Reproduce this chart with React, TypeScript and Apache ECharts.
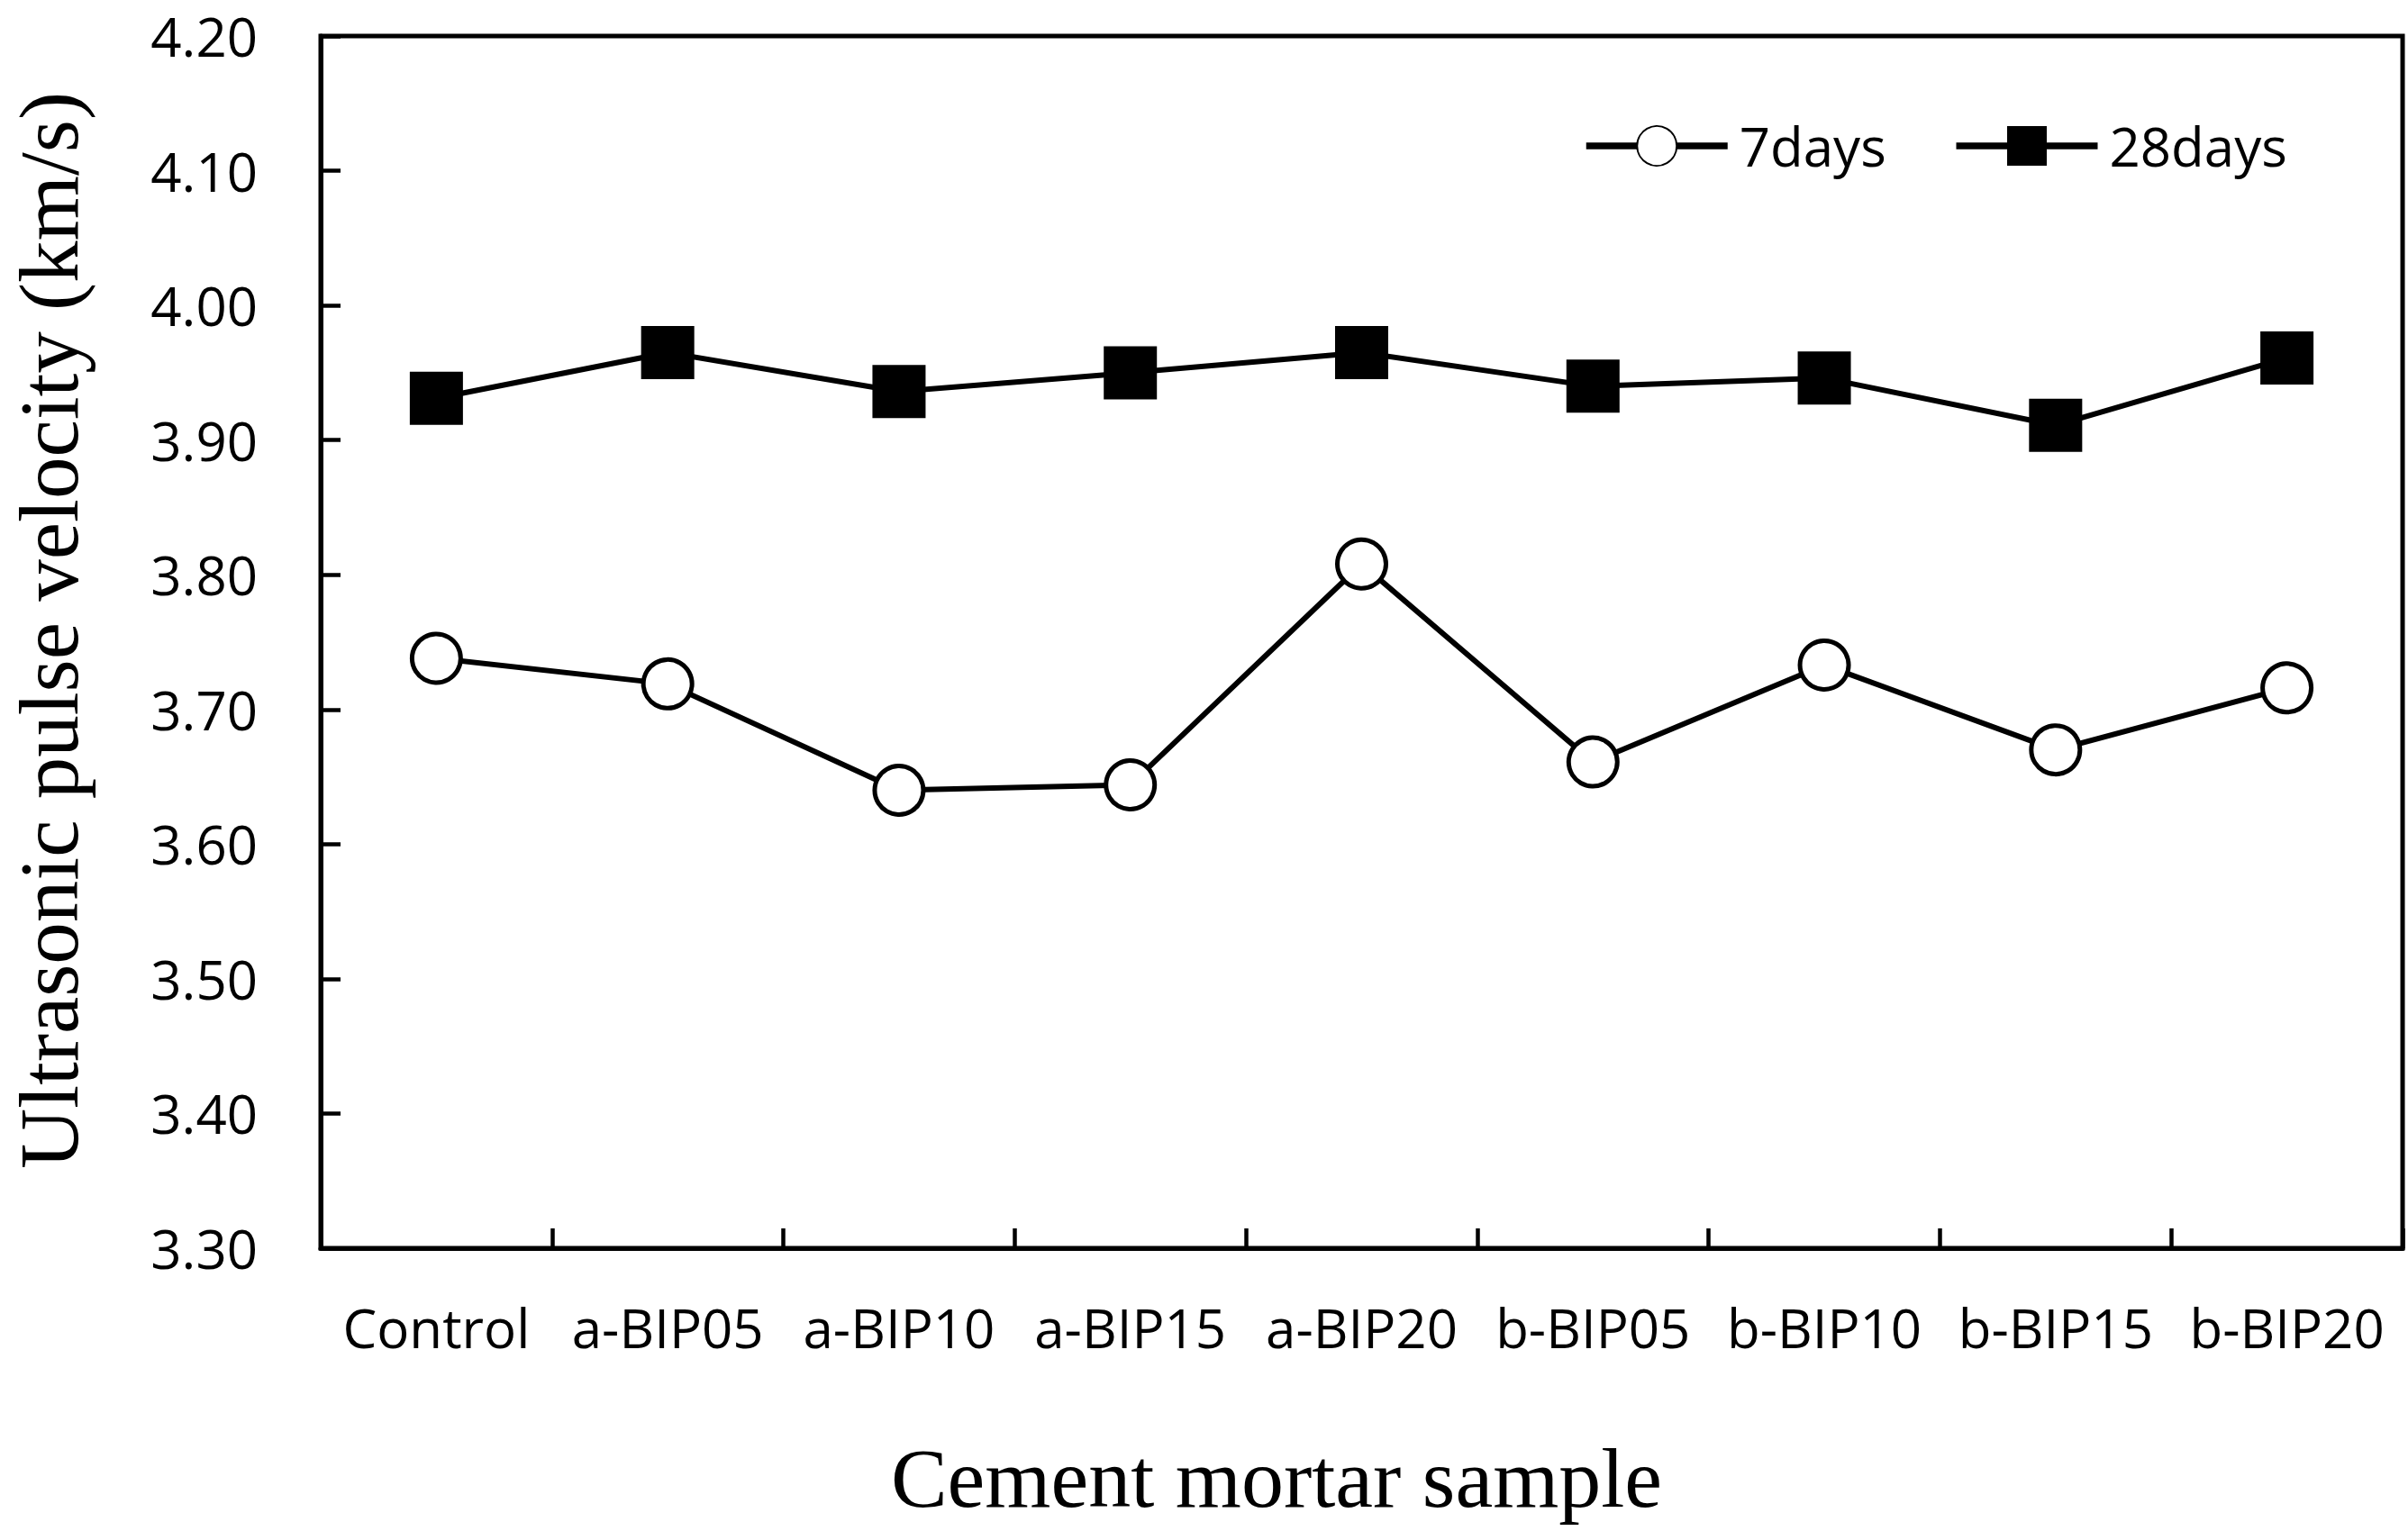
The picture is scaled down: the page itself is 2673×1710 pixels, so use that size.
import React, { useEffect, useRef } from "react";
import * as echarts from "echarts";

const categories = [
  "Control",
  "a-BIP05",
  "a-BIP10",
  "a-BIP15",
  "a-BIP20",
  "b-BIP05",
  "b-BIP10",
  "b-BIP15",
  "b-BIP20",
];
const days7 = [3.738, 3.719, 3.64, 3.644, 3.808, 3.661, 3.733, 3.67, 3.716];
const days28 = [3.931, 3.965, 3.936, 3.95, 3.965, 3.94, 3.946, 3.911, 3.961];
const seriesNames = ["7days", "28days"];
const yMin = 3.3;
const yMax = 4.2;
const yStep = 0.1;
const xTitle = "Cement mortar sample";
const yTitle = "Ultrasonic pulse velocity (km/s)";

const SANS = '"Open Sans", "Noto Sans", sans-serif';
const SERIF = '"Liberation Serif", "DejaVu Serif", serif';

export default function App() {
  const ref = useRef<HTMLDivElement>(null);
  useEffect(() => {
    if (!ref.current) return;
    const chart = echarts.init(ref.current, null, { renderer: "svg" });
    chart.setOption({
      animation: false,
      backgroundColor: "#ffffff",
      grid: {
        left: 356,
        right: 6,
        top: 40,
        bottom: 324,
        show: true,
        borderColor: "#000",
        borderWidth: 5,
        outerBoundsMode: "none",
        containLabel: false,
      },
      legend: {
        left: 1757,
        top: 132,
        padding: 0,
        itemWidth: 157,
        itemHeight: 55,
        itemGap: 74,
        lineStyle: { width: 7.5 },
        textStyle: {
          fontFamily: SANS,
          fontSize: 60,
          color: "#000",
          padding: [0, 0, 0, 8],
        },
        data: seriesNames,
      },
      xAxis: {
        type: "category",
        data: categories,
        boundaryGap: true,
        axisLine: { show: true, lineStyle: { color: "#000", width: 5 } },
        axisTick: {
          show: true,
          inside: true,
          length: 22,
          interval: 0,
          lineStyle: { color: "#000", width: 4.5 },
        },
        axisLabel: {
          interval: 0,
          margin: 58,
          fontFamily: SANS,
          fontSize: 60,
          color: "#000",
        },
        splitLine: { show: false },
      },
      yAxis: {
        type: "value",
        min: yMin,
        max: yMax,
        interval: yStep,
        axisLine: { show: true, lineStyle: { color: "#000", width: 5 } },
        axisTick: {
          show: true,
          inside: true,
          length: 22,
          lineStyle: { color: "#000", width: 4.5 },
        },
        axisLabel: {
          margin: 70,
          fontFamily: SANS,
          fontSize: 60,
          color: "#000",
          formatter: (v: number) => v.toFixed(2),
        },
        splitLine: { show: false },
      },
      graphic: [
        {
          type: "text",
          x: 54,
          y: 700,
          rotation: Math.PI / 2,
          style: {
            text: yTitle,
            fontFamily: SERIF,
            fontSize: 93,
            fill: "#000",
            textAlign: "center",
            textVerticalAlign: "middle",
          },
        },
        {
          type: "text",
          x: 1417,
          y: 1641,
          style: {
            text: xTitle,
            fontFamily: SERIF,
            fontSize: 94,
            fill: "#000",
            textAlign: "center",
            textVerticalAlign: "middle",
          },
        },
      ],
      series: [
        {
          name: seriesNames[0],
          type: "line",
          data: days7,
          symbol: "circle",
          symbolSize: 54,
          z: 3,
          lineStyle: { color: "#000", width: 6 },
          itemStyle: { color: "#fff", borderColor: "#000", borderWidth: 5 },
        },
        {
          name: seriesNames[1],
          type: "line",
          data: days28,
          symbol: "rect",
          symbolSize: 59,
          z: 3,
          lineStyle: { color: "#000", width: 6 },
          itemStyle: { color: "#000", borderWidth: 0 },
        },
      ],
    });
    return () => chart.dispose();
  }, []);
  return (
    <div
      ref={ref}
      style={{ position: "fixed", left: 0, top: 0, width: 2673, height: 1710, background: "#fff" }}
    />
  );
}
